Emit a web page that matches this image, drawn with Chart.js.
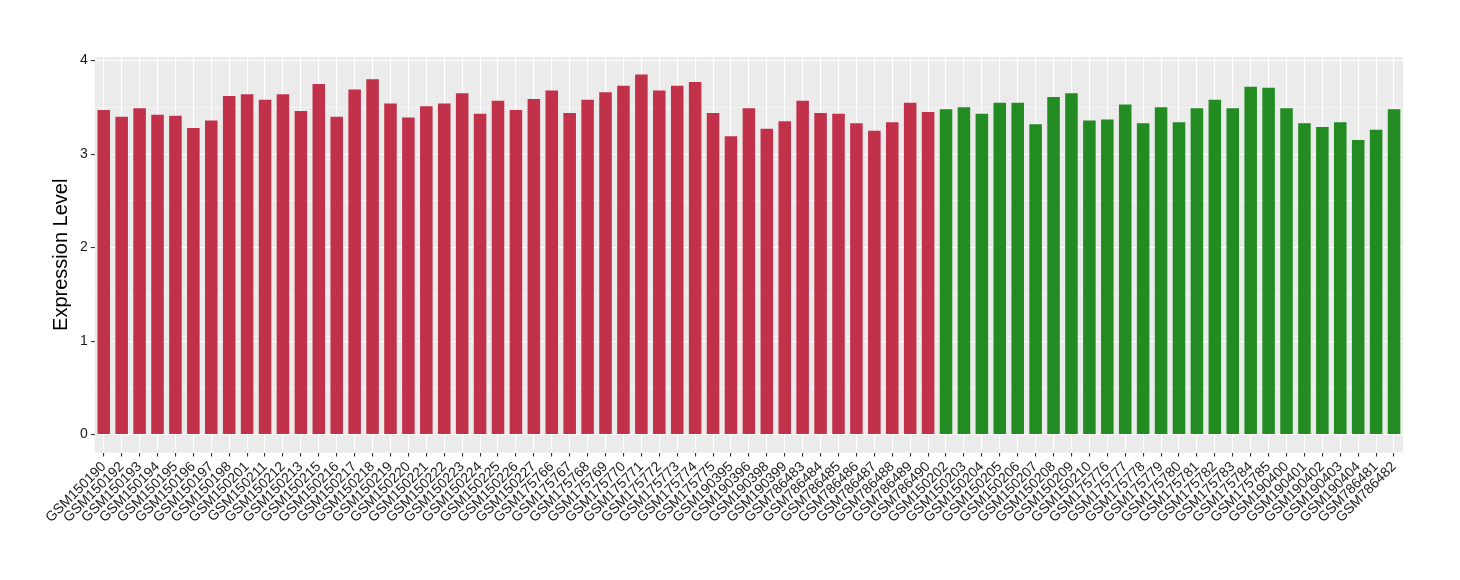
<!DOCTYPE html>
<html>
<head>
<meta charset="utf-8">
<script src="https://cdn.jsdelivr.net/npm/chart.js@4"></script>
<style>
  html, body { margin: 0; padding: 0; background: #fff; }
  #wrap { width: 1460px; height: 580px; }
</style>
</head>
<body>
<div id="wrap"><canvas id="exprChart" width="1460" height="580"></canvas></div>
<script>
// samples of first group (red)
const redSamples = ['GSM150190', 'GSM150192', 'GSM150193', 'GSM150194', 'GSM150195', 'GSM150196', 'GSM150197', 'GSM150198',
    'GSM150201', 'GSM150211', 'GSM150212', 'GSM150213', 'GSM150215', 'GSM150216', 'GSM150217', 'GSM150218',
    'GSM150219', 'GSM150220', 'GSM150221', 'GSM150222', 'GSM150223', 'GSM150224', 'GSM150225', 'GSM150226',
    'GSM150227', 'GSM175766', 'GSM175767', 'GSM175768', 'GSM175769', 'GSM175770', 'GSM175771', 'GSM175772',
    'GSM175773', 'GSM175774', 'GSM175775', 'GSM190395', 'GSM190396', 'GSM190398', 'GSM190399', 'GSM786483',
    'GSM786484', 'GSM786485', 'GSM786486', 'GSM786487', 'GSM786488', 'GSM786489', 'GSM786490'];
const redValues = [3.47, 3.40, 3.49, 3.42, 3.41, 3.28, 3.36, 3.62,
    3.64, 3.58, 3.64, 3.46, 3.75, 3.40, 3.69, 3.80,
    3.54, 3.39, 3.51, 3.54, 3.65, 3.43, 3.57, 3.47,
    3.59, 3.68, 3.44, 3.58, 3.66, 3.73, 3.85, 3.68,
    3.73, 3.77, 3.44, 3.19, 3.49, 3.27, 3.35, 3.57,
    3.44, 3.43, 3.33, 3.25, 3.34, 3.55, 3.45];

// samples of second group (green)
const greenSamples = ['GSM150202', 'GSM150203', 'GSM150204', 'GSM150205', 'GSM150206', 'GSM150207', 'GSM150208', 'GSM150209',
    'GSM150210', 'GSM175776', 'GSM175777', 'GSM175778', 'GSM175779', 'GSM175780', 'GSM175781', 'GSM175782',
    'GSM175783', 'GSM175784', 'GSM175785', 'GSM190400', 'GSM190401', 'GSM190402', 'GSM190403', 'GSM190404',
    'GSM786481', 'GSM786482'];
const greenValues = [3.48, 3.50, 3.43, 3.55, 3.55, 3.32, 3.61, 3.65,
    3.36, 3.37, 3.53, 3.33, 3.50, 3.34, 3.49, 3.58,
    3.49, 3.72, 3.71, 3.49, 3.33, 3.29, 3.34, 3.15,
    3.26, 3.48];

const yTicks = [0, 1, 2, 3, 4];

const RED = '#C2314A';
const GREEN = '#228B22';

const labels = redSamples.concat(greenSamples);
const values = redValues.concat(greenValues);
const colors = redSamples.map(() => RED).concat(greenSamples.map(() => GREEN));

// grey panel like ggplot
const panelBg = {
    id: 'panelBg',
    beforeDraw(chart) {
        const a = chart.chartArea;
        const c = chart.ctx;
        c.save();
        c.fillStyle = '#EBEBEB';
        c.fillRect(a.left, a.top, a.right - a.left, a.bottom - a.top);
        c.restore();
    }
};

const isMajor = v => yTicks.includes(Math.round(v * 1000) / 1000);
const FONT = '"Liberation Sans", Arial, sans-serif';

const ctx = document.getElementById('exprChart').getContext('2d');
new Chart(ctx, {
    type: 'bar',
    data: {
        labels: labels,
        datasets: [{
            data: values,
            backgroundColor: colors,
            borderWidth: 0,
            barPercentage: 0.7,
            categoryPercentage: 1.0
        }]
    },
    plugins: [panelBg],
    options: {
        responsive: false,
        animation: false,
        layout: { padding: { left: 45, right: 57, top: 57, bottom: 52 } },
        plugins: { legend: { display: false }, tooltip: { enabled: false } },
        scales: {
            x: {
                offset: true,
                grid: {
                    offset: false,
                    color: '#FFFFFF',
                    lineWidth: 1.1,
                    tickColor: '#333333',
                    tickLength: 4
                },
                border: { display: false },
                ticks: {
                    autoSkip: false,
                    minRotation: 45,
                    maxRotation: 45,
                    padding: 2,
                    color: '#1A1A1A',
                    font: { family: FONT, size: 14 }
                }
            },
            y: {
                min: -0.192,
                max: 4.038,
                grid: {
                    color: '#FFFFFF',
                    lineWidth: c => isMajor(c.tick.value) ? 1.1 : 0.5,
                    tickColor: c => isMajor(c.tick.value) ? '#333333' : 'rgba(0,0,0,0)',
                    tickLength: 4
                },
                border: { display: false },
                ticks: {
                    stepSize: 0.5,
                    includeBounds: false,
                    padding: 3,
                    color: '#1A1A1A',
                    font: { family: FONT, size: 14 },
                    callback: v => isMajor(v) ? String(Math.round(v)) : ''
                },
                title: {
                    display: true,
                    text: 'Expression Level',
                    color: '#000000',
                    padding: { top: 4, bottom: 4 },
                    font: { family: FONT, size: 20 }
                }
            }
        }
    }
});
</script>
</body>
</html>
